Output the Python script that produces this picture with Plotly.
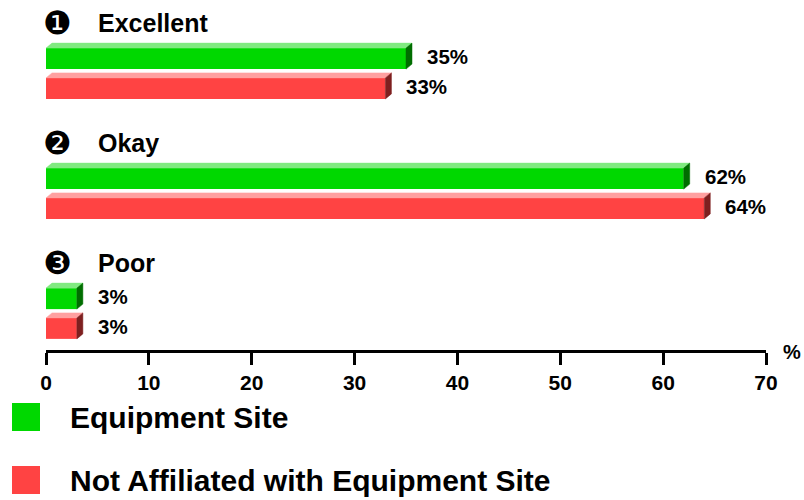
import plotly.graph_objects as go

# ---- data ----
categories = ["Excellent", "Okay", "Poor"]
markers = ["\u2776", "\u2777", "\u2778"]
series_names = ["Equipment Site", "Not Affiliated with Equipment Site"]
equipment_site = [35, 62, 3]
not_affiliated = [33, 64, 3]
tick_values = [0, 10, 20, 30, 40, 50, 60, 70]

# ---- style ----
FONT = "Liberation Sans, Arial, sans-serif"
front_colors = ["#00d800", "#ff4343"]
top_colors = ["#80ea80", "#ffa0a0"]
side_colors = ["#006e00", "#7e2020"]

W, H = 804, 500
ML, MR, MT, MB = 46, 38, 0, 150
PW, PH = W - ML - MR, H - MT - MB
XMAX = 70
PX_PER_X = PW / XMAX
PX_PER_Y = 120.0
Y_TOP = -73.5 / PX_PER_Y
Y_BOT = Y_TOP + PH / PX_PER_Y

BAR_W = 21 / PX_PER_Y
OFFS = [-0.124, 0.124]
DX = 6 / PX_PER_X
DY = 5 / PX_PER_Y


def px_to_paper(px, py):
    return (px - ML) / PW, 1 - (py - MT) / PH


fig = go.Figure()
all_series = [equipment_site, not_affiliated]

for s, vals in enumerate(all_series):
    ys = [g + OFFS[s] for g in range(len(categories))]
    fig.add_trace(go.Bar(
        x=vals, y=ys, orientation="h", width=BAR_W,
        marker=dict(color=front_colors[s], line=dict(width=0)),
        name=series_names[s], showlegend=False, hoverinfo="x+name",
    ))
    # top faces and side faces
    tx, ty, sx, sy = [], [], [], []
    for v, yc in zip(vals, ys):
        yt = yc - BAR_W / 2
        yb = yc + BAR_W / 2
        tx += [0, DX, v + DX, v, 0, None]
        ty += [yt, yt - DY, yt - DY, yt, yt, None]
        sx += [v, v + DX, v + DX, v, v, None]
        sy += [yt, yt - DY, yb - DY, yb, yt, None]
    fig.add_trace(go.Scatter(x=tx, y=ty, mode="lines", fill="toself",
                             fillcolor=top_colors[s],
                             line=dict(width=0.5, color=top_colors[s]),
                             showlegend=False, hoverinfo="skip"))
    fig.add_trace(go.Scatter(x=sx, y=sy, mode="lines", fill="toself",
                             fillcolor=side_colors[s],
                             line=dict(width=0.5, color=side_colors[s]),
                             showlegend=False, hoverinfo="skip"))
    for v, yc in zip(vals, ys):
        fig.add_annotation(x=v, y=yc, xref="x", yref="y", text=f"<b>{v}%</b>",
                           showarrow=False, xanchor="left", yanchor="middle",
                           xshift=19, yshift=2,
                           font=dict(family=FONT, size=20.5, color="black"))

# category headers
for g, (cat, mk) in enumerate(zip(categories, markers)):
    yc = g - 50.5 / PX_PER_Y
    fig.add_annotation(x=0, y=yc, xref="x", yref="y", text=mk,
                       showarrow=False, xanchor="center", yanchor="middle",
                       xshift=11, font=dict(family="DejaVu Sans", size=32, color="black"))
    fig.add_annotation(x=0, y=yc, xref="x", yref="y", text=f"<b>{cat}</b>",
                       showarrow=False, xanchor="left", yanchor="middle",
                       xshift=50, font=dict(family=FONT, size=25, color="black"))

# "%" axis unit
px, py = px_to_paper(792, 352)
fig.add_annotation(x=px, y=py, xref="paper", yref="paper", text="<b>%</b>",
                   showarrow=False, xanchor="center", yanchor="middle",
                   font=dict(family=FONT, size=20, color="black"))

# legend (manual)
legend_rows = [(403, 431), (466, 494)]
for s, (y0, y1) in enumerate(legend_rows):
    x0p, y0p = px_to_paper(12, y0)
    x1p, y1p = px_to_paper(40, y1)
    fig.add_shape(type="rect", xref="paper", yref="paper",
                  x0=x0p, x1=x1p, y0=y1p, y1=y0p,
                  fillcolor=front_colors[s], line=dict(width=0))
    tx, ty = px_to_paper(68, (y0 + y1) / 2)
    fig.add_annotation(x=tx, y=ty, xref="paper", yref="paper",
                       text=f"<b>{series_names[s]}</b>", showarrow=False,
                       xanchor="left", yanchor="middle",
                       font=dict(family=FONT, size=30, color="black"))

fig.update_layout(
    width=W, height=H,
    margin=dict(l=ML, r=MR, t=MT, b=MB, pad=0),
    paper_bgcolor="white", plot_bgcolor="white",
    barmode="overlay", showlegend=False,
    xaxis=dict(range=[0, XMAX], tickvals=tick_values,
               ticktext=[f"<b>{t}</b>" for t in tick_values],
               showgrid=False, zeroline=False,
               showline=True, linewidth=3, linecolor="black",
               ticks="outside", ticklen=12, tickwidth=3, tickcolor="black",
               tickfont=dict(family=FONT, size=21, color="black"),
               fixedrange=True),
    yaxis=dict(range=[Y_BOT, Y_TOP], visible=False, fixedrange=True),
)

fig.write_html(
    "out.html",
    config={"displayModeBar": False},
    post_script="document.body.style.margin='0';document.body.style.overflow='hidden';",
)
